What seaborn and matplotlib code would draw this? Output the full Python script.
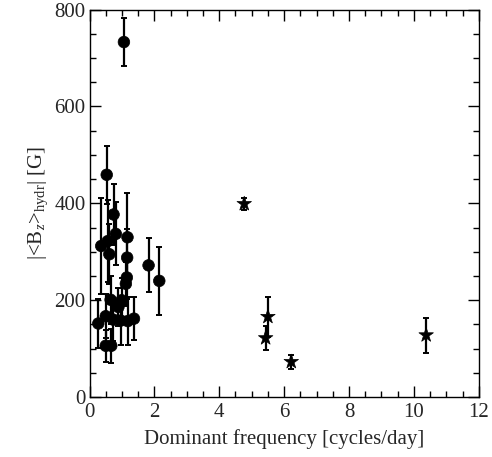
import numpy as np
import pandas as pd
import matplotlib
matplotlib.use('Agg')
import matplotlib.pyplot as plt
import seaborn as sns
from matplotlib.ticker import MultipleLocator

# circles: stars with dominant frequency < ~2.5 c/d
circ_freq = [0.27, 0.36, 0.53, 0.56, 0.61, 0.74, 0.81, 1.17, 1.16, 1.15, 1.12,
             1.82, 2.15, 0.50, 0.65, 0.89, 0.99, 0.73, 0.96, 1.18, 1.37,
             0.50, 0.67, 1.06]
circ_bz = [152, 312, 459, 322, 295, 377, 337, 330, 288, 247, 234,
           272, 240, 167, 201, 186, 200, 160, 158, 157, 162,
           106, 106, 733]
circ_err = [50, 99, 60, 85, 62, 63, 65, 92, 60, 45, 45,
            56, 70, 45, 50, 40, 45, 45, 50, 50, 45,
            33, 35, 50]

# stars: high-frequency objects
star_freq = [4.77, 5.50, 5.43, 6.22, 10.38]
star_bz = [399, 166, 122, 73, 128]
star_err = [12, 41, 25, 15, 36]

df = pd.DataFrame({
    'freq': circ_freq + star_freq,
    'bz': circ_bz + star_bz,
    'err': circ_err + star_err,
    'kind': ['circ'] * len(circ_freq) + ['star'] * len(star_freq),
})

sns.set_style('ticks')
plt.rcParams['font.family'] = ['Liberation Serif', 'DejaVu Serif']
plt.rcParams['mathtext.fontset'] = 'custom'
plt.rcParams['mathtext.rm'] = 'Liberation Serif'
plt.rcParams['mathtext.it'] = 'Liberation Serif:italic'

fig = plt.figure(figsize=(4.92, 4.57), dpi=100)
ax = fig.add_axes([0.182, 0.131, 0.791, 0.848])

ax.errorbar(df['freq'], df['bz'], yerr=df['err'], fmt='none',
            ecolor='black', elinewidth=1.6, capsize=2, capthick=1.4, zorder=2)

sns.scatterplot(data=df, x='freq', y='bz', style='kind',
                markers={'circ': 'o', 'star': '*'},
                size='kind', sizes={'circ': 70, 'star': 120},
                color='black', edgecolor='black', linewidth=0.5,
                legend=False, ax=ax, zorder=3)

ax.set_xlim(0, 12)
ax.set_ylim(0, 800)
ax.xaxis.set_major_locator(MultipleLocator(2))
ax.xaxis.set_minor_locator(MultipleLocator(0.5))
ax.yaxis.set_major_locator(MultipleLocator(200))
ax.yaxis.set_minor_locator(MultipleLocator(50))
ax.tick_params(which='both', direction='in', top=True, right=True,
               labelsize=15, color='black')
ax.tick_params(axis='x', pad=4)
ax.tick_params(axis='y', pad=3)
ax.tick_params(which='major', length=8, width=1.0)
ax.tick_params(which='minor', length=4, width=1.0)
for s in ax.spines.values():
    s.set_linewidth(1.0)
    s.set_color('black')

ax.set_xlabel('Dominant frequency [cycles/day]', fontsize=15, labelpad=5)
ax.set_ylabel(r'|<B$_z$>$_{\rm hydr}$| [G]', fontsize=15, labelpad=3)

fig.savefig('out.png', dpi=100)
